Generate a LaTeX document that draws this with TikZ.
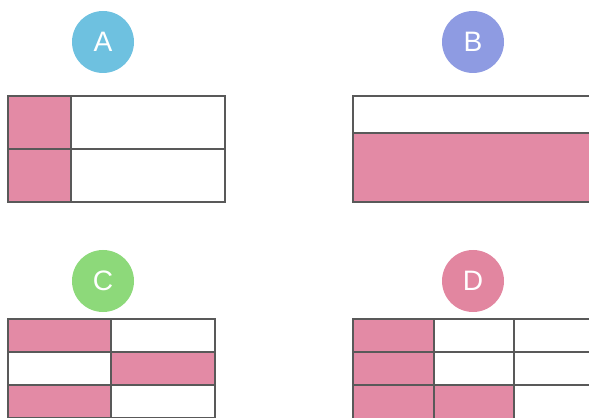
\documentclass[tikz,border=0pt]{standalone}
\usepackage{fontspec}
\setmainfont{Liberation Sans}
\usepackage{xcolor}
\usetikzlibrary{calc}

\definecolor{barpink}{RGB}{227,138,165}
\definecolor{dotA}{RGB}{110,193,224}
\definecolor{dotB}{RGB}{142,155,226}
\definecolor{dotC}{RGB}{141,217,122}
\definecolor{dotD}{RGB}{226,134,160}

\tikzset{
  badge/.style={circle, minimum size=1.24cm, inner sep=0pt, text=white, font=\fontsize{16}{16}\selectfont},
  gridline/.style={draw=black!65, line width=0.6pt}
}

\begin{document}
\begin{tikzpicture}

\useasboundingbox (0,0) rectangle (11.78,8.34);
\clip (0,0) rectangle (11.78,8.34);

% Option A: two rows, first quarter shaded

\fill[barpink] (0.16,4.30) rectangle (1.42,6.42);
\draw[gridline] (0.16,4.30) rectangle (4.50,6.42);
\draw[gridline] (0.16,5.36) -- (4.50,5.36);
\draw[gridline] (1.42,4.30) -- (1.42,6.42);
\node[badge, fill=dotA] (labA) at (2.06,7.50) {A};

% Option B: lower strip shaded

\fill[barpink] (7.06,4.30) rectangle (12.2,5.68);
\draw[gridline] (7.06,4.30) rectangle (12.2,6.42);
\draw[gridline] (7.06,5.68) -- (12.2,5.68);
\node[badge, fill=dotB] (labB) at (9.46,7.50) {B};

% Option C: 2 columns, alternating rows

\fill[barpink] (0.16,1.30) rectangle (2.22,1.96);
\fill[barpink] (2.22,0.64) rectangle (4.30,1.30);
\fill[barpink] (0.16,-0.02) rectangle (2.22,0.64);
\draw[gridline] (0.16,-0.5) rectangle (4.30,1.96);
\foreach \y in {1.30,0.64,-0.02} \draw[gridline] (0.16,\y) -- (4.30,\y);
\draw[gridline] (2.22,-0.5) -- (2.22,1.96);
\node[badge, fill=dotC] (labC) at (2.06,2.72) {C};

% Option D: 3 columns, first column and one more cell

\fill[barpink] (7.06,-0.5) rectangle (8.68,1.96);
\fill[barpink] (8.68,-0.5) rectangle (10.28,0.64);
\draw[gridline] (7.06,-0.5) rectangle (12.2,1.96);
\foreach \y in {1.30,0.64} \draw[gridline] (7.06,\y) -- (12.2,\y);
\foreach \x in {8.68,10.28} \draw[gridline] (\x,-0.5) -- (\x,1.96);
\node[badge, fill=dotD] (labD) at (9.46,2.72) {D};

\end{tikzpicture}
\end{document}
